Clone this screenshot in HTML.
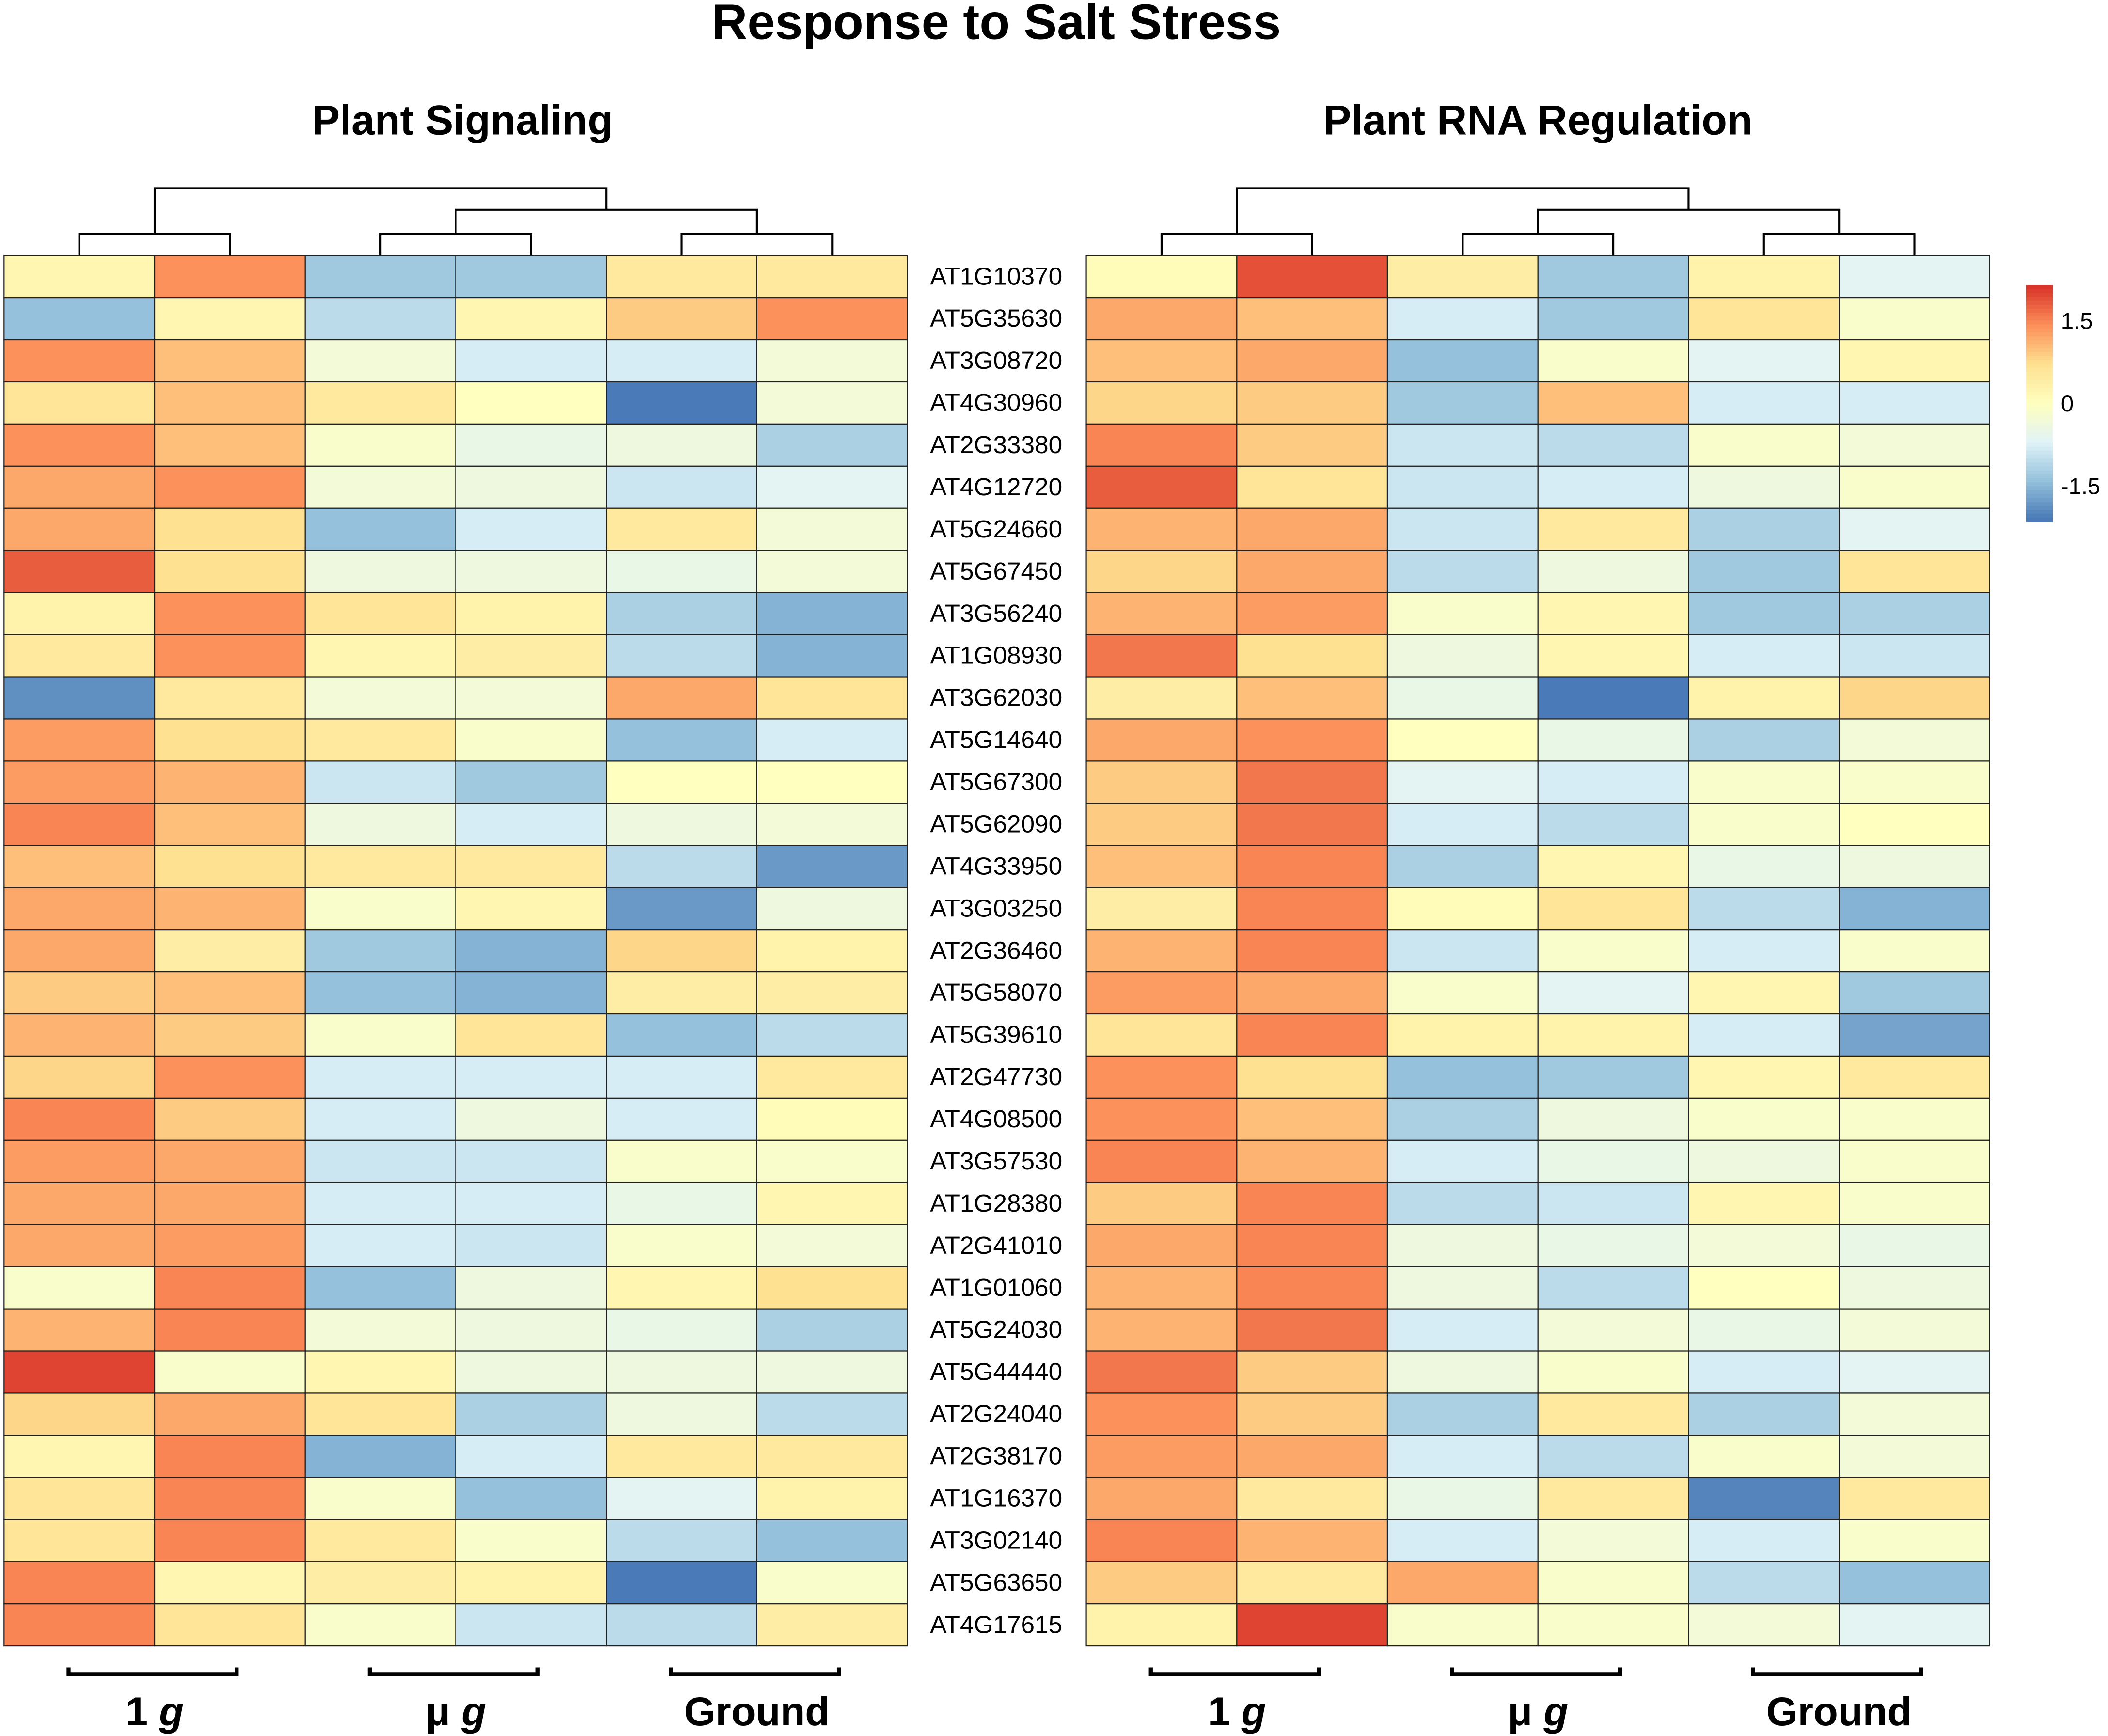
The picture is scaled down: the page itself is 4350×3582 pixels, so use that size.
<!DOCTYPE html>
<html><head><meta charset="utf-8"><style>html,body{margin:0;padding:0;background:#fff}svg{display:block}</style></head>
<body>
<svg id="chart" xmlns="http://www.w3.org/2000/svg" width="4350" height="3582" viewBox="0 0 1568 1291" preserveAspectRatio="none" font-family="Liberation Sans, Arial, sans-serif">
<rect width="1568" height="1291" fill="#fff"/>
<text x="741" y="29" text-anchor="middle" font-size="37" font-weight="bold">Response to Salt Stress</text>
<text x="344" y="100" text-anchor="middle" font-size="31" font-weight="bold">Plant Signaling</text>
<text x="1144" y="100" text-anchor="middle" font-size="31" font-weight="bold">Plant RNA Regulation</text>
<g id="left"></g><g id="right"></g><g id="labels"></g><g id="legend"></g>
</svg>
<script>
const genes=["AT1G10370","AT5G35630","AT3G08720","AT4G30960","AT2G33380","AT4G12720","AT5G24660","AT5G67450","AT3G56240","AT1G08930","AT3G62030","AT5G14640","AT5G67300","AT5G62090","AT4G33950","AT3G03250","AT2G36460","AT5G58070","AT5G39610","AT2G47730","AT4G08500","AT3G57530","AT1G28380","AT2G41010","AT1G01060","AT5G24030","AT5G44440","AT2G24040","AT2G38170","AT1G16370","AT3G02140","AT5G63650","AT4G17615"];
const groups=["1 g","μ g","Ground"];
const legendTicks=[1.5,0,-1.5];
const leftValues=[
[0.2,1.4,-1.3,-1.3,0.5,0.5],[-1.4,0.2,-1.05,0.2,0.9,1.4],[1.4,1.0,-0.3,-0.8,-0.8,-0.3],[0.6,1.0,0.5,0.0,-2.1,-0.3],
[1.4,1.0,-0.15,-0.5,-0.4,-1.2],[1.2,1.4,-0.3,-0.4,-0.9,-0.65],[1.2,0.7,-1.4,-0.8,0.5,-0.3],[1.8,0.7,-0.4,-0.4,-0.5,-0.3],
[0.3,1.4,0.6,0.3,-1.2,-1.55],[0.5,1.4,0.2,0.4,-1.05,-1.55],[-1.9,0.5,-0.3,-0.3,1.2,0.6],[1.3,0.7,0.5,-0.15,-1.4,-0.8],
[1.3,1.1,-0.9,-1.3,0.0,0.0],[1.5,1.0,-0.4,-0.8,-0.4,-0.3],[1.0,0.7,0.5,0.5,-1.05,-1.8],[1.2,1.1,-0.15,0.2,-1.8,-0.4],
[1.2,0.4,-1.3,-1.55,0.8,0.3],[0.9,1.0,-1.4,-1.55,0.4,0.4],[1.1,0.9,-0.15,0.6,-1.4,-1.05],[0.8,1.4,-0.8,-0.8,-0.8,0.5],
[1.5,0.9,-0.8,-0.4,-0.8,0.1],[1.3,1.2,-0.9,-0.9,-0.15,-0.15],[1.2,1.2,-0.8,-0.8,-0.5,0.2],[1.2,1.3,-0.8,-0.9,-0.15,-0.3],
[-0.15,1.5,-1.4,-0.4,0.2,0.7],[1.1,1.5,-0.3,-0.4,-0.5,-1.2],[2.0,-0.15,0.2,-0.4,-0.4,-0.4],[0.8,1.2,0.6,-1.2,-0.4,-1.05],
[0.2,1.5,-1.55,-0.8,0.5,0.5],[0.6,1.5,-0.15,-1.4,-0.65,0.3],[0.6,1.5,0.5,-0.15,-1.05,-1.4],[1.5,0.2,0.4,0.3,-2.1,-0.15],
[1.5,0.6,-0.15,-0.9,-1.05,0.4]];
const rightValues=[
[0.1,1.9,0.4,-1.3,0.3,-0.65],[1.2,1.0,-0.8,-1.3,0.6,-0.15],[1.0,1.2,-1.4,-0.15,-0.65,0.2],[0.8,0.9,-1.3,1.0,-0.8,-0.8],
[1.5,0.9,-0.9,-1.05,-0.15,-0.3],[1.8,0.6,-0.9,-0.8,-0.4,-0.15],[1.1,1.2,-0.9,0.5,-1.2,-0.65],[0.8,1.2,-1.05,-0.4,-1.3,0.6],
[1.1,1.3,-0.15,0.2,-1.3,-1.2],[1.6,0.7,-0.4,0.2,-0.8,-0.9],[0.4,1.0,-0.5,-2.1,0.3,0.8],[1.2,1.4,0.0,-0.5,-1.2,-0.3],
[0.9,1.6,-0.65,-0.8,-0.15,-0.15],[0.9,1.6,-0.8,-1.05,-0.15,0.0],[1.0,1.5,-1.2,0.2,-0.5,-0.4],[0.4,1.5,0.1,0.6,-1.05,-1.55],
[1.1,1.5,-0.9,-0.15,-0.8,-0.15],[1.3,1.2,-0.15,-0.65,0.2,-1.3],[0.6,1.5,0.3,0.3,-0.8,-1.7],[1.4,0.7,-1.4,-1.3,0.2,0.5],
[1.4,1.0,-1.2,-0.4,-0.15,-0.15],[1.5,1.1,-0.8,-0.5,-0.4,-0.15],[0.9,1.5,-1.05,-0.9,0.2,-0.15],[1.2,1.5,-0.4,-0.5,-0.3,-0.5],
[1.1,1.5,-0.4,-1.05,0.0,-0.4],[1.1,1.6,-0.8,-0.3,-0.5,-0.3],[1.6,0.9,-0.4,-0.15,-0.8,-0.65],[1.4,0.9,-1.2,0.5,-1.2,-0.3],
[1.3,1.2,-0.8,-1.05,-0.15,-0.3],[1.2,0.5,-0.5,0.5,-2.0,0.5],[1.5,1.1,-0.8,-0.3,-0.8,-0.15],[0.9,0.5,1.2,-0.15,-1.05,-1.4],
[0.3,2.0,-0.15,-0.15,-0.3,-0.65]];

const NS="http://www.w3.org/2000/svg";
const stops=["#4575B4","#91BFDB","#E0F3F8","#FFFFBF","#FEE090","#FC8D59","#D73027"];
const VMIN=-2.15,VMAX=2.15;
function hex(h){return [1,3,5].map(i=>parseInt(h.substr(i,2),16));}
function color(v){let t=(v-VMIN)/(VMAX-VMIN);t=Math.max(0,Math.min(1,t))*(stops.length-1);
 const i=Math.min(stops.length-2,Math.floor(t)),f=t-i;const a=hex(stops[i]),b=hex(stops[i+1]);
 return "rgb("+a.map((x,k)=>Math.round(x+(b[k]-x)*f)).join(",")+")";}
function mk(tag,attrs,parent){const e=document.createElementNS(NS,tag);for(const k in attrs)e.setAttribute(k,attrs[k]);parent.appendChild(e);return e;}
const TOP=190,BOT=1224,CW=112,RH=(BOT-TOP)/genes.length;
function yPos(r){return TOP+r*RH;}
function drawPanel(g,x0,vals,prefix){
 vals.forEach((row,r)=>row.forEach((v,c)=>{
  const e=mk("rect",{x:x0+c*CW,y:yPos(r),width:CW,height:RH,fill:color(v),stroke:"#222","stroke-width":0.8},g);
  
  
 }));
 const cx=c=>x0+c*CW+CW/2;
 const d=[[cx(0),cx(1),174],[cx(2),cx(3),174],[cx(4),cx(5),174]];
 const den=mk("g",{fill:"none",stroke:"#000","stroke-width":1.5},g);
 
 
 const p=[];
 d.forEach(([a,b,y])=>p.push(`M${a},${TOP}V${y}H${b}V${TOP}`));
 const m1=(cx(0)+cx(1))/2,m2=(cx(2)+cx(3))/2,m3=(cx(4)+cx(5))/2,m23=(m2+m3)/2;
 p.push(`M${m2},174V156H${m3}V174`);
 p.push(`M${m1},174V140H${m23}V156`);
 mk("path",{d:p.join("")},den);
 groups.forEach((lab,i)=>{
  const a=x0+48+i*224,b=a+125,gg=mk("g",{},g);
  
  
  mk("path",{d:`M${a},1240V1245H${b}V1240`,fill:"none",stroke:"#000","stroke-width":3},gg);
  const t=mk("text",{x:x0+112+i*224,y:1283,"text-anchor":"middle","font-size":30,"font-weight":"bold"},gg);
  const parts=lab.split(" ");
  const s1=mk("tspan",{},t);s1.textContent=parts[0]+" ";
  const s2=mk("tspan",{"font-style":parts[1]=="g"?"italic":"normal"},t);s2.textContent=parts[1];
 });
}
drawPanel(document.getElementById("left"),3,leftValues,"left");
drawPanel(document.getElementById("right"),808,rightValues,"right");
const lg=document.getElementById("labels");
genes.forEach((gname,r)=>{
 const t=mk("text",{x:741,y:yPos(r)+RH/2+6,"text-anchor":"middle","font-size":18.5},lg);
 
 
 t.textContent=gname;
});
const leg=document.getElementById("legend");


const L0=212,L1=388,N=60;
for(let i=0;i<N;i++){const v=VMAX-(VMAX-VMIN)*(i+0.5)/N;
 mk("rect",{x:1507,y:L0+(L1-L0)*i/N,width:20,height:(L1-L0)/N+0.5,fill:color(v)},leg);}
const ly=v=>L0+(VMAX-v)/(VMAX-VMIN)*(L1-L0);
legendTicks.forEach(v=>{
 const t=mk("text",{x:1533,y:ly(v)+6,"font-size":17},leg);
 
 
 t.textContent=v===0?"0":(v>0?v.toFixed(1):"-"+Math.abs(v).toFixed(1));
});
</script>
</body></html>
